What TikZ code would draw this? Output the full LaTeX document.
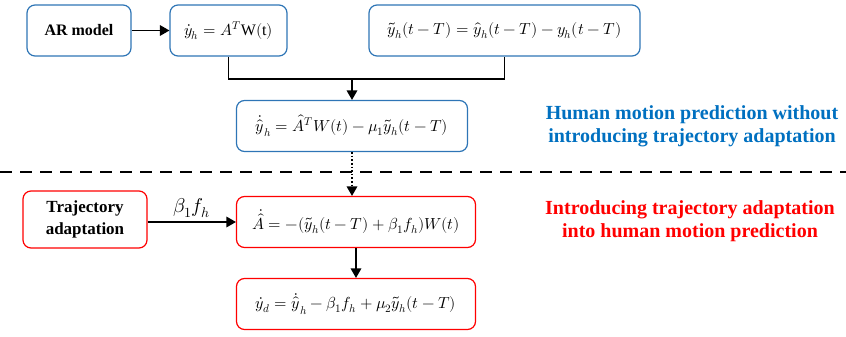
\documentclass[tikz,border=0pt]{standalone}
\usepackage{amsmath}
\usepackage{fontspec}
\usepackage{unicode-math}
\setmainfont{Liberation Serif}[BoldFont={Liberation Serif Bold}]
\setmathfont{Latin Modern Math}
\usetikzlibrary{arrows,calc}
\definecolor{boxblue}{RGB}{46,117,182}
\definecolor{noteblue}{RGB}{0,112,192}
\tikzset{every scope/.style={>=triangle 60,thick}}
\tikzstyle{blue_box} =
  [ rectangle
  , rounded corners=8pt
  , draw=boxblue
  , line width=1.2pt
  , minimum height=51pt
  , font=\fontsize{16}{19}\selectfont
  ]
\tikzstyle{red_box} =
  [ rectangle
  , rounded corners=8pt
  , draw=red
  , line width=1.2pt
  , minimum height=51pt
  , font=\fontsize{16}{19}\selectfont
  ]
\tikzstyle{note} =
  [ align=center
  , font=\fontsize{20}{23}\selectfont\bfseries
  ]
\def\ARModel{\textbf{AR model}}
\def\TrajAdapt{\textbf{Trajectory}\\\textbf{adaptation}}
\def\PredVel{$\dot{y}_h = A^T\mathrm{W}(\mathrm{t})$}
\def\PredErr{$\tilde{y}_h(t-T) = \hat{y}_h(t-T) - y_h(t-T)$}
\def\PredVelErr{$\dot{\hat{y}}_h = \hat{A}^T W(t) - \mu_1\tilde{y}_h(t-T)$}
\def\AdaptLaw{$\dot{\hat{A}} = -(\tilde{y}_h(t-T) + \beta_1 f_h)W(t)$}
\def\DesiredVel{$\dot{y}_d = \dot{\hat{y}}_h - \beta_1 f_h + \mu_2\tilde{y}_h(t-T)$}

\begin{document}
\begin{tikzpicture}[x=1pt,y=-1pt]
    \useasboundingbox (0,0) rectangle (846,337);
    \node[blue_box, minimum width=104pt] (ar_model)     at (79, 30.5)    {\ARModel};
    \node[blue_box, minimum width=117pt] (pred_vel)     at (228.5, 30.5) {\PredVel};
    \node[blue_box, minimum width=271pt] (pred_err)     at (504.5, 30.5) {\PredErr};
    \draw[->, line width=1.6pt] (ar_model) -- (pred_vel);

    \node[blue_box, minimum width=231pt] (pred_vel_err) at (352, 126) {\PredVelErr};
    \coordinate (join) at (352, 79);
    \draw[line width=1.6pt] (pred_vel.south) |- (join) -| (pred_err.south);
    \draw[->, line width=1.6pt] (join) -- (pred_vel_err);

    \node[note, text=noteblue] (note_without) at (692, 126) {Human motion prediction without\\introducing trajectory adaptation};

    % separator between the two cases
    \coordinate (sep_left)  at (0, 172);
    \coordinate (sep_right) at (846, 172);
    \draw[line width=1.6pt, dash pattern=on 12pt off 8pt] (sep_left) -- (sep_right);

    \node[red_box, minimum width=124pt, minimum height=57pt, align=center, font=\fontsize{17}{22}\selectfont] (traj_adapt) at (85, 219.5) {\TrajAdapt};
    \node[red_box, minimum width=239pt] (adapt_law)   at (356, 222) {\AdaptLaw};
    \node[red_box, minimum width=239pt] (desired_vel) at (356, 304) {\DesiredVel};
    \draw[->, line width=1.6pt, dotted] (pred_vel_err.south) -- (pred_vel_err.south |- adapt_law.north);
    \draw[->, line width=1.6pt] (traj_adapt.east |- adapt_law) -- node[above, font=\fontsize{20}{22}\selectfont]{$\beta_1 f_h$} (adapt_law.west);
    \draw[->, line width=1.6pt] (adapt_law) -- (desired_vel);

    \node[note, text=red] (note_with) at (690, 221) {Introducing trajectory adaptation\\into human motion prediction};
  \end{tikzpicture}
\end{document}
